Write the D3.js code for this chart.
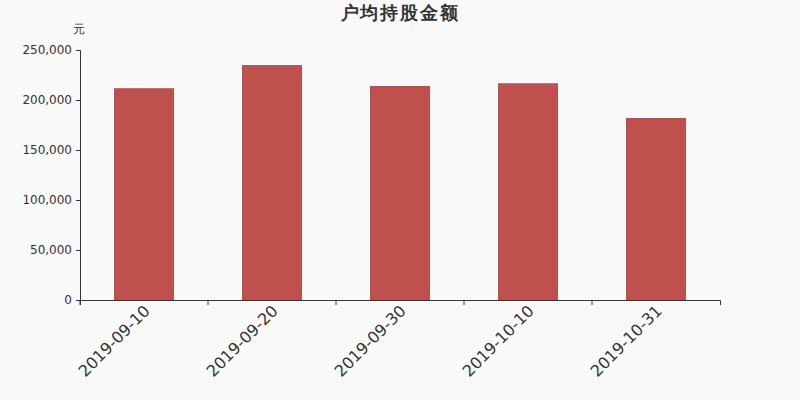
<!DOCTYPE html>
<html><head><meta charset="utf-8">
<script src="https://cdn.jsdelivr.net/npm/d3@7/dist/d3.min.js"></script>
<style>body{margin:0;background:#f9f9f9;}svg{display:block;font-family:"DejaVu Sans",sans-serif;}</style>
</head><body><svg id="c" width="800" height="400"></svg>
<script>
const categories = ["2019-09-10","2019-09-20","2019-09-30","2019-10-10","2019-10-31"];
const values = [211800, 235000, 214000, 216800, 182000];
const yTicks = [0, 50000, 100000, 150000, 200000, 250000];
const title = "户均持股金额";
const unit = "元";

const svg = d3.select("#c");
svg.append("rect").attr("width",800).attr("height",400).attr("fill","#f9f9f9");
const m = {l:80, r:80, t:50, b:100};
const W = 800, H = 400;
const x = d3.scaleBand().domain(categories).range([m.l, W-m.r]);
const y = d3.scaleLinear().domain([0,250000]).range([H-m.b, m.t]);

svg.selectAll(".bar").data(values).enter().append("rect")
  .attr("x",(d,i)=>x(categories[i]) + (x.bandwidth()-60)/2)
  .attr("width",60)
  .attr("y",d=>y(d))
  .attr("height",d=>y(0)-y(d))
  .attr("fill","#c0504d");

const fmt = d3.format(",");
const ya = svg.append("g").attr("transform",`translate(${m.l},0)`)
  .call(d3.axisLeft(y).tickValues(yTicks).tickFormat(fmt).tickSize(4).tickPadding(4));
ya.selectAll("text").attr("font-size",12).attr("fill","#333").attr("font-family","DejaVu Sans");
ya.selectAll("line,path").attr("stroke","#333");

const xa = svg.append("g").attr("transform",`translate(0,${H-m.b})`)
  .call(d3.axisBottom(x).tickSize(5).tickSizeOuter(5));
xa.selectAll("line,path").attr("stroke","#333");
xa.selectAll(".tick line").attr("transform",`translate(${-x.bandwidth()/2},0)`);
xa.selectAll(".tick text")
  .attr("font-size",16).attr("fill","#333").attr("font-family","DejaVu Sans")
  .attr("text-anchor","end").attr("dy","0.35em")
  .attr("transform","translate(3,8) rotate(-45)").attr("y",0).attr("x",0);

svg.append("text").attr("x",400).attr("y",19).attr("text-anchor","middle")
  .attr("font-size",17.5).attr("letter-spacing","1.8px").attr("font-weight","bold").attr("fill","#333").text(title);
svg.append("text").attr("x",79).attr("y",33).attr("text-anchor","middle")
  .attr("font-size",12).attr("fill","#333").text(unit);
</script></body></html>
